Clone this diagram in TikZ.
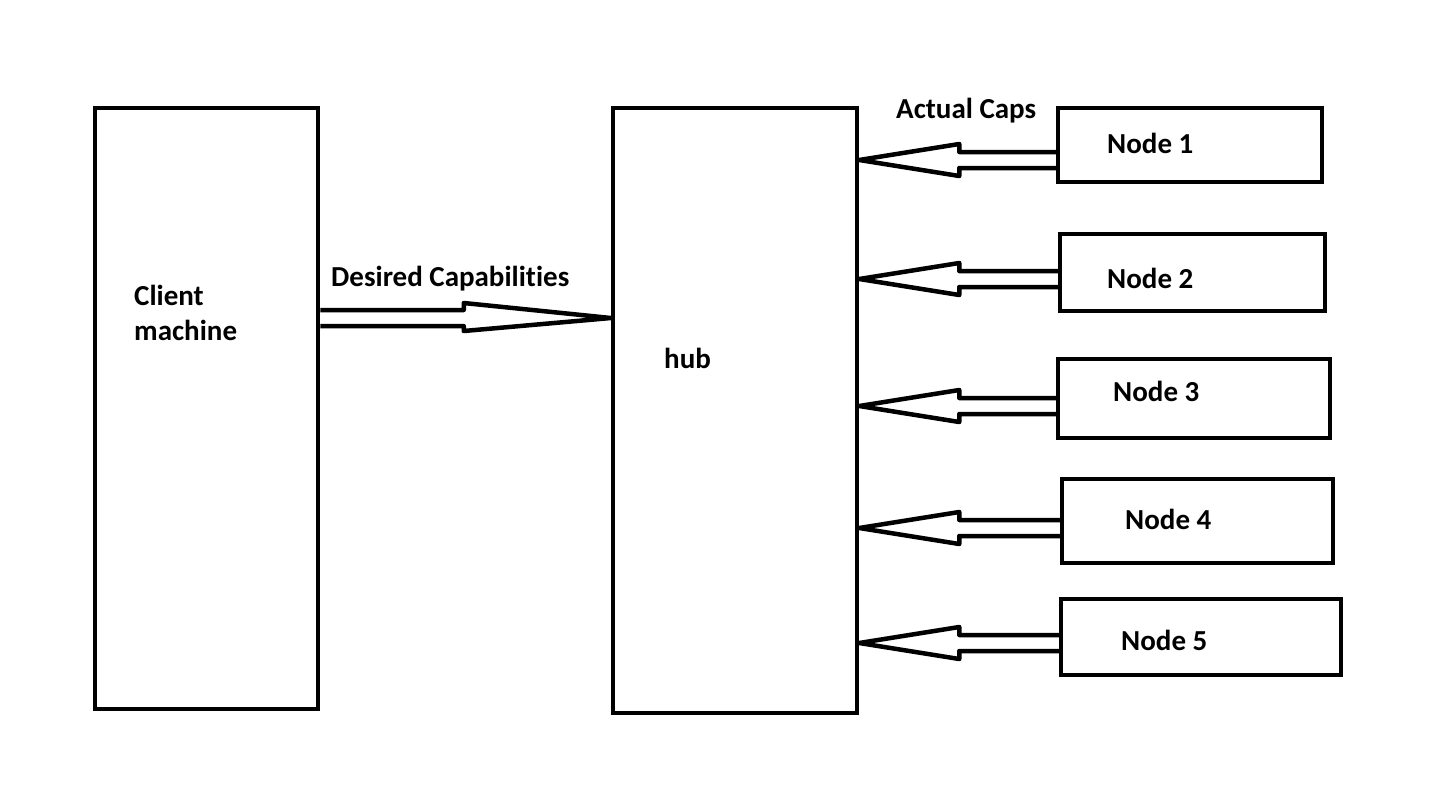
\documentclass[tikz,border=0pt]{standalone}
\usepackage{fontspec}
\setmainfont{Carlito}[Ligatures={NoCommon}]
\usetikzlibrary{calc}
\tikzset{
  box/.style={draw, line width=4.5pt, inner sep=0pt, minimum width=#1},
  lbl/.style={font=\bfseries\fontsize{29}{35}\selectfont, inner sep=0pt, anchor=west, align=left},
  fat/.style={line width=4.5pt, line join=round}
}
\newcommand\leftfat[2]{%
  \coordinate (t) at (hub.east |- 0,#2);
  \coordinate (s) at (#1.west |- 0,#2);
  \draw[fat] ($(s)+(0,-8)$) -- ($(t)+(100,-8)$) -- ($(t)+(100,-16)$) -- (t)
     -- ($(t)+(100,16)$) -- ($(t)+(100,8)$) -- ($(s)+(0,8)$);
}
\begin{document}
\begin{tikzpicture}[x=1pt,y=-1pt]
\useasboundingbox (0,0) rectangle (1431,785);
\node[box=223pt, minimum height=601pt] (client) at (206.5,408.5) {};
\node[box=244pt, minimum height=605pt] (hub) at (735,410.5) {};
\node[box=264pt, minimum height=74pt] (n1) at (1190,145) {};
\node[box=265pt, minimum height=77pt] (n2) at (1192.5,272.5) {};
\node[box=272pt, minimum height=79pt] (n3) at (1194,398.5) {};
\node[box=271pt, minimum height=84pt] (n4) at (1197.5,521) {};
\node[box=280pt, minimum height=76pt] (n5) at (1201,637) {};

\node[lbl] (tclient) at (134,313) {Client\\machine};
\node[lbl] (tdes) at (331,279) {Desired Capabilities};
\node[lbl] (thub) at (664,358) {hub};
\node[lbl] (tact) at (896,111) {Actual Caps};
\node[lbl] (t1) at (1107,143) {Node 1};
\node[lbl] (t2) at (1107,278) {Node 2};
\node[lbl] (t3) at (1113,391) {Node 3};
\node[lbl] (t4) at (1125,519) {Node 4};
\node[lbl] (t5) at (1121,640) {Node 5};

% desired capabilities arrow
\coordinate (dt) at (hub.west |- 0,318);
\coordinate (ds) at (client.east |- 0,318);
\draw[fat] ($(ds)+(0,-8)$) -- ($(dt)+(-147,-8)$) -- ($(dt)+(-147,-15)$) -- (dt)
   -- ($(dt)+(-147,13)$) -- ($(dt)+(-147,8)$) -- ($(ds)+(0,8)$);

\leftfat{n1}{160}
\leftfat{n2}{279}
\leftfat{n3}{406}
\leftfat{n4}{528}
\leftfat{n5}{643}
\end{tikzpicture}
\end{document}
